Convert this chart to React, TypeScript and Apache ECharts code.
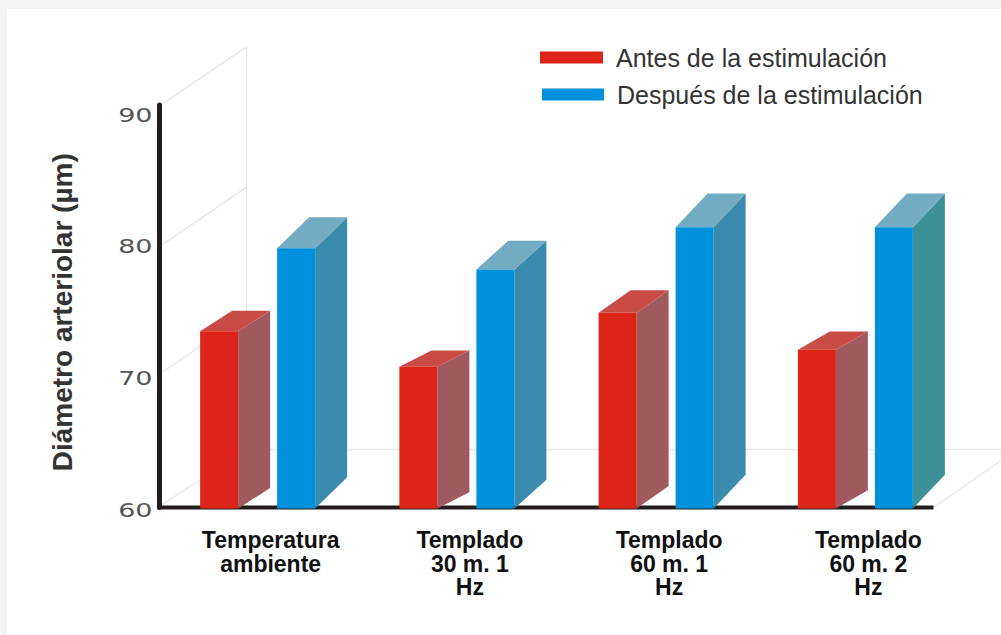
import React, { useEffect, useRef } from "react";
import * as echarts from "echarts";

const categories = ["Temperatura\nambiente", "Templado\n30 m. 1\nHz", "Templado\n60 m. 1\nHz", "Templado\n60 m. 2\nHz"];
const beforeName = "Antes de la estimulación";
const afterName = "Después de la estimulación";
const beforeValues = [73.4, 70.7, 74.8, 72.0];
const afterValues = [79.7, 78.1, 81.3, 81.3];
const yTicks = [60, 70, 80, 90];
const yTitle = "Diámetro arteriolar (µm)";

// Pseudo-3D geometry, in pixels
const BAR_WIDTH = 38;
const BAR_OFFSET = 38.5;
const BAR_SHIFT = -1.5;
const DEPTH_X = 32;
const WALL_DX = 84;
const WALL_DY = -57;
const FLOOR_DY = -55;
const FLOOR_INSET = 23;
const WALL_NUDGE: Record<number, number> = { 60: -3, 70: -4, 80: 0, 90: -9 };

const FRONT_RED = "#DC2418";
const SIDE_RED = "#A0595E";
const TOP_RED = "#C94B45";
const FRONT_BLUE = "#0090DC";
const SIDE_BLUE = ["#3A8BAE", "#3A8BAE", "#3A8BAE", "#3E9199"];
const TOP_BLUE = "#72ABC2";
const WALL_LINE = "#E8E6E6";

function box(
  api: any,
  index: number,
  sign: number,
  rise: number,
  front: string,
  side: string | string[],
  top: string
) {
  const x = api.value(0);
  const p = api.coord([x, api.value(1)]);
  const b = api.coord([x, 60]);
  const l = p[0] + BAR_SHIFT + sign * BAR_OFFSET - BAR_WIDTH / 2;
  const r = l + BAR_WIDTH;
  const t = p[1];
  const bot = b[1] + 1;
  const dy = (bot - t) * rise;
  const sideColor = Array.isArray(side) ? side[index] : side;
  return {
    type: "group",
    children: [
      { type: "polygon", shape: { points: [[r, t], [r + DEPTH_X, t - dy], [r + DEPTH_X, bot - dy], [r, bot]] }, style: { fill: sideColor } },
      { type: "polygon", shape: { points: [[l, t], [r, t], [r + DEPTH_X, t - dy], [l + DEPTH_X, t - dy]] }, style: { fill: top } },
      { type: "rect", shape: { x: l, y: t, width: BAR_WIDTH, height: bot - t }, style: { fill: front } },
    ],
  };
}

const lineEl = (x1: number, y1: number, x2: number, y2: number, stroke: string, lineWidth: number) => ({
  type: "line",
  shape: { x1, y1, x2, y2 },
  style: { stroke, lineWidth },
});

// Side wall, floor outline, shortened x axis and the widened tick labels
function renderFrame(params: any, api: any) {
  const tick = api.value(1);
  const cs = params.coordSys;
  const y = api.coord([0, tick])[1];
  const x0 = cs.x + 3;
  const wallY = y + WALL_NUDGE[tick];
  const floorBack = wallY + FLOOR_DY;
  const children: any[] = [
    lineEl(x0, wallY, x0 + WALL_DX, params.dataIndex === 0 ? floorBack : wallY + WALL_DY, WALL_LINE, 1.4),
    {
      type: "text",
      x: cs.x - 7,
      y: y + 2.5,
      scaleX: 1.42,
      style: {
        text: String(tick),
        fontFamily: "DejaVu Sans",
        fontSize: 19,
        fill: "#555555",
        align: "right",
        verticalAlign: "middle",
      },
    },
  ];
  if (params.dataIndex === 0) {
    const backX = x0 + WALL_DX;
    const endX = cs.x + cs.width - FLOOR_INSET;
    const topY = api.coord([0, 90])[1] + WALL_NUDGE[90] + WALL_DY;
    children.push(
      lineEl(backX, topY, backX, floorBack, WALL_LINE, 1.4),
      lineEl(backX, floorBack, 1001, floorBack, WALL_LINE, 1.4),
      lineEl(endX, y, 1001, y - 47, WALL_LINE, 1.4),
      lineEl(cs.x - 2, y, endX, y, "#231c1c", 4)
    );
  }
  return { type: "group", children };
}

export default function App() {
  const ref = useRef<HTMLDivElement>(null);
  useEffect(() => {
    const chart = echarts.init(ref.current!, null, { renderer: "svg" });
    const legendText = { fontFamily: "Liberation Sans", fontSize: 25, color: "#333333" };
    chart.setOption({
      animation: false,
      backgroundColor: "transparent",
      grid: { left: 159.5, top: 105, width: 797, bottom: 127.5, containLabel: false },
      legend: [
        { data: [beforeName], left: 540, top: 45, icon: "rect", itemWidth: 63, itemHeight: 12, itemGap: 13, textStyle: { ...legendText, padding: [0, 0, 0, 8] }, padding: 0, selectedMode: false },
        { data: [afterName], left: 542, top: 82, icon: "rect", itemWidth: 62, itemHeight: 12, itemGap: 13, textStyle: { ...legendText, padding: [0, 0, 0, 8] }, padding: 0, selectedMode: false },
      ],
      xAxis: {
        type: "category",
        data: categories,
        axisLine: { show: false },
        axisTick: { show: false },
        splitLine: { show: false },
        axisLabel: {
          interval: 0,
          margin: 21,
          padding: [0, 0, 0, 23],
          fontFamily: "Liberation Sans",
          fontWeight: "bold",
          fontSize: 23,
          lineHeight: 23.5,
          color: "#111111",
        },
      },
      yAxis: {
        type: "value",
        min: 60,
        max: 90.6,
        interval: 10,
        name: yTitle,
        nameLocation: "middle",
        nameRotate: 90,
        nameGap: 83,
        nameTextStyle: { fontFamily: "Liberation Sans", fontWeight: "bold", fontSize: 28, color: "#333333", padding: [0, 12, 0, 0] },
        axisLine: { show: true, lineStyle: { color: "#231c1c", width: 5 } },
        axisTick: { show: false },
        axisLabel: { show: false },
        splitLine: { show: false },
      },
      series: [
        {
          type: "custom",
          name: "frame",
          silent: true,
          z: 1,
          renderItem: renderFrame,
          encode: { x: 0, y: 1 },
          data: yTicks.map((t) => [0, t]),
        },
        {
          type: "custom",
          name: beforeName,
          z: 3,
          itemStyle: { color: FRONT_RED },
          renderItem: (p: any, api: any) => box(api, p.dataIndex, -1, 0.115, FRONT_RED, SIDE_RED, TOP_RED),
          encode: { x: 0, y: 1 },
          data: beforeValues.map((v, i) => [i, v]),
        },
        {
          type: "custom",
          name: afterName,
          z: 3,
          itemStyle: { color: FRONT_BLUE },
          renderItem: (p: any, api: any) => box(api, p.dataIndex, 1, 0.12, FRONT_BLUE, SIDE_BLUE, TOP_BLUE),
          encode: { x: 0, y: 1 },
          data: afterValues.map((v, i) => [i, v]),
        },
      ],
    });
    return () => chart.dispose();
  }, []);

  return (
    <div style={{ position: "fixed", left: 0, top: 0, width: 1001, height: 635, background: "#f3f3f3", overflow: "hidden" }}>
      <div style={{ position: "absolute", left: 7, top: 9, right: 0, bottom: 0, background: "#ffffff" }} />
      <div ref={ref} style={{ position: "absolute", left: 0, top: 0, width: 1001, height: 635 }} />
    </div>
  );
}
